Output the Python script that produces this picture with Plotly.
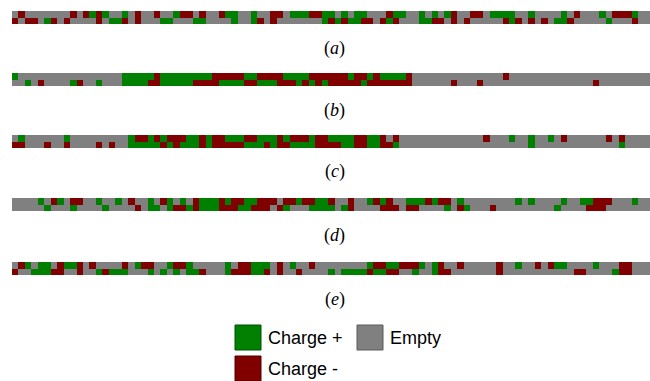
import plotly.graph_objects as go

W, H = 650, 381

# Site occupation along each chain: "G" = charge +, "R" = charge -, "." = empty.
# Each configuration has two rows of 99 sites.
panel_labels = ["a", "b", "c", "d", "e"]

a_top = ".R.......R" ".RGRG..G.R" "..R..GRR.R" "..RGG..G.." "RR.GGGRRGG" ".G.GG...RG" "G..G.G.GR." ".RR.GGGG.." "G....G.R.." ".G.RRRG.."
a_bot = "R.RR.GR.R." "...R.GGR.R" "...GG...GG" "....G..GR." "R.......GR" "GRGGRR.RGR" "...GGRR.R." "R.....RGR." "R.R.GGR..." "..G...R.."

b_top = "G........." ".......GGG" "GGRGGGGGGG" "GRRRRRGGRR" "RRGGGGRRRR" "RRGRRGRGGG" "GR........" "......R..." ".........." "........."
b_bot = "..G.R....G" "R..G...GGG" "GRRGGGGGRR" "RRGGGGRRGG" "GRRRGRGRGR" "RRRRGRRRRR" "RR......R." "..R......." ".........." "R........"

c_top = ".G......G." "........GR" "RGRGRRRGGR" "GRRGGGRRGG" "GRGRRRGRRG" "GGGRRGGR.R" ".........." "...R...G.." "G..G.R...." "..R.R...."
c_bot = "RR...R..R." "...R.R..GG" "GGGRGRGGGR" "GRRRRRGGGR" "GRRGGGGRRR" "RGGRRGGRRG" ".........." ".........." "G........." "....G...."

d_top = "....G.RG.R" "R..G..G.R." ".G.RG.G.RG" "GGRGRRGGRR" "R.RRGRRGGR" "..R..GRGR." ".GGGRGRR.G" "........G." "G....G..GG" "RRR...G.."
d_bot = ".....G...G" "....G....R" ".GG.GRRGRG" "GGRRRGGRRR" ".RG...GGGG" ".GR....RRR" ".RR....G.R" "G...R....." "....G....R" "RR......."

e_top = ".RG.GG.RGG" "R.R....R.G" "RR..GRRG.." "...G.RRGGG" ".R.G..R..." ".....GRRGG" "RRRG.GR..R" ".....R..G." ".R.RGG...." "G...RR..."
e_bot = "R..GGGRR.." "R..GRGGG.." ".G.G.G.GGR" "...GRRRGGR" ".R..R....G" ".GGGGRGGRR" "..G..GRR.." ".....R...." ".......RR." "...GRR..."

strips = [(a_top, a_bot), (b_top, b_bot), (c_top, c_bot), (d_top, d_bot), (e_top, e_bot)]

legend_names = ["Charge +", "Empty", "Charge -"]

GREEN, GRAY, RED = "#008000", "#808080", "#800000"
code = {"G": 1, ".": 0, "R": -1}
colorscale = [[0.0, RED], [1 / 3, RED], [1 / 3, GRAY], [2 / 3, GRAY], [2 / 3, GREEN], [1.0, GREEN]]

# pixel geometry of the strips
strip_left = 12
strip_tops = [11, 73, 135, 198, 262]
strip_h = 13
label_offset = 37


def py(px):
    return 1 - px / H


fig = go.Figure()
annotations = []
for i, (top, bot) in enumerate(strips):
    n = len(top)
    z = [[code[c] for c in top], [code[c] for c in bot]]
    ax = "" if i == 0 else str(i + 1)
    fig.add_trace(go.Heatmap(
        z=z, x=list(range(n)), y=[0, 1],
        zmin=-1, zmax=1, colorscale=colorscale, showscale=False,
        hoverinfo="skip",
        xaxis="x" + ax, yaxis="y" + ax,
    ))
    t = strip_tops[i]
    fig.layout["xaxis" + ax] = dict(domain=[strip_left / W, 1], range=[-0.5, n - 0.7],
                                    visible=False, anchor="y" + ax)
    fig.layout["yaxis" + ax] = dict(domain=[py(t + strip_h), py(t)], range=[1.5, -0.5],
                                    visible=False, anchor="x" + ax)
    annotations.append(dict(
        x=335 / W, y=py(t + label_offset), xref="paper", yref="paper",
        text="(<i>%s</i>)" % panel_labels[i], showarrow=False,
        font=dict(family="Liberation Serif", size=18, color="black"),
        xanchor="center", yanchor="middle",
    ))

# legend drawn as swatches + labels
legend_items = [
    (legend_names[0], GREEN, "#005000", 235, 325),
    (legend_names[1], GRAY, "#5a5a5a", 357, 325),
    (legend_names[2], RED, "#500000", 235, 356),
]
shapes = []
for name, fill, edge, x0, y0 in legend_items:
    shapes.append(dict(type="rect", xref="paper", yref="paper",
                       x0=x0 / W, x1=(x0 + 26) / W, y0=py(y0 + 25), y1=py(y0),
                       fillcolor=fill, line=dict(color=edge, width=1)))
    annotations.append(dict(
        x=(x0 + 31) / W, y=py(y0 + 12.5), xref="paper", yref="paper",
        text=name, showarrow=False, xanchor="left", yanchor="middle",
        font=dict(family="Liberation Sans", size=18, color="black"),
    ))

fig.update_layout(
    width=W, height=H, margin=dict(l=0, r=0, t=0, b=0),
    paper_bgcolor="white", plot_bgcolor="white",
    annotations=annotations, shapes=shapes, showlegend=False,
)

fig.write_html("out.html")
